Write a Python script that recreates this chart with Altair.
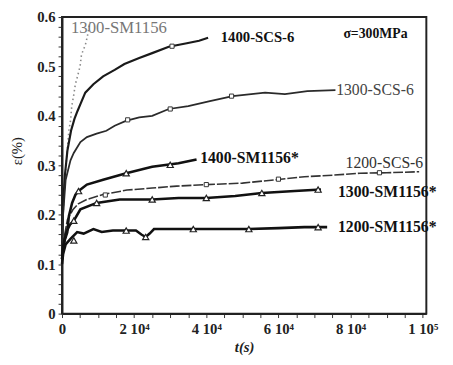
import altair as alt
import pandas as pd

# ---- data (t in s, strain in %) ----
t_1300_SM1156 = [0, 300, 700, 1000, 1300, 1900, 2350, 2700, 3200, 3700, 4300, 5000, 5400, 6000, 6450, 7000, 7400, 7800]
e_1300_SM1156 = [0.12, 0.20, 0.26, 0.29, 0.317, 0.37, 0.39, 0.42, 0.44, 0.464, 0.48, 0.50, 0.524, 0.535, 0.543, 0.56, 0.576, 0.59]

t_1400_SCS6 = [0, 300, 800, 1500, 2500, 3450, 4300, 5100, 6450, 8700, 11400, 14600, 17300, 21400, 25000, 29600, 34600, 38000, 40500]
e_1400_SCS6 = [0.12, 0.22, 0.28, 0.33, 0.37, 0.394, 0.41, 0.424, 0.447, 0.464, 0.48, 0.493, 0.505, 0.517, 0.527, 0.54, 0.547, 0.552, 0.558]

t_1300_SCS6 = [0, 300, 1000, 2350, 3260, 5100, 6900, 9600, 12300, 14600, 17700, 21400, 25000, 29600, 35000, 41000, 47300, 56300, 61800, 68000, 75800]
e_1300_SCS6 = [0.12, 0.20, 0.27, 0.31, 0.325, 0.347, 0.357, 0.364, 0.37, 0.38, 0.39, 0.397, 0.40, 0.414, 0.42, 0.43, 0.44, 0.447, 0.444, 0.45, 0.452]

t_1200_SCS6 = [0, 500, 1500, 3000, 4500, 6900, 11400, 18000, 25000, 31800, 40000, 50000, 58000, 67200, 75000, 82600, 90000, 99000]
e_1200_SCS6 = [0.11, 0.15, 0.19, 0.21, 0.222, 0.231, 0.241, 0.25, 0.254, 0.258, 0.261, 0.264, 0.27, 0.277, 0.28, 0.284, 0.285, 0.287]

t_1400_SM = [0, 300, 800, 1450, 1900, 2800, 3700, 4600, 6900, 11400, 17800, 25000, 32300, 37300]
e_1400_SM = [0.11, 0.13, 0.15, 0.164, 0.197, 0.224, 0.24, 0.248, 0.261, 0.271, 0.284, 0.297, 0.304, 0.312]

t_1300_SM = [0, 400, 1200, 2200, 3270, 5100, 9600, 16000, 25000, 32300, 40000, 48000, 55400, 64500, 71800]
e_1300_SM = [0.11, 0.14, 0.165, 0.18, 0.188, 0.211, 0.224, 0.231, 0.231, 0.234, 0.234, 0.238, 0.244, 0.248, 0.251]

t_1200_SM = [0, 300, 1000, 2350, 4200, 6000, 8700, 11000, 14100, 17800, 20500, 22000, 23200, 24300, 25500, 32300, 40000, 51800, 60000, 67200, 73500]
e_1200_SM = [0.10, 0.12, 0.14, 0.151, 0.165, 0.162, 0.171, 0.165, 0.168, 0.168, 0.168, 0.16, 0.155, 0.162, 0.171, 0.171, 0.171, 0.171, 0.173, 0.175, 0.175]

# triangle markers (SM1156* curves)
tri_t = [4600, 17800, 30000, 3270, 9600, 25000, 40000, 55400, 71000, 3270, 17800, 23200, 36400, 51800, 71000]
tri_e = [0.248, 0.284, 0.301, 0.188, 0.224, 0.231, 0.234, 0.244, 0.251, 0.148, 0.168, 0.155, 0.171, 0.171, 0.175]

# square markers (SCS-6 curves)
sq_t = [30500, 18200, 30000, 47000, 12000, 40000, 60000, 88000]
sq_e = [0.541, 0.392, 0.414, 0.44, 0.24, 0.261, 0.272, 0.285]

# annotations
lab_text = ["1300-SM1156", "1400-SCS-6", "σ=300MPa", "1300-SCS-6", "1400-SM1156*", "1200-SCS-6", "1300-SM1156*", "1200-SM1156*"]
lab_t = [2500, 44000, 78000, 76000, 38300, 78600, 76500, 76500]
lab_e = [0.578, 0.560, 0.566, 0.452, 0.314, 0.304, 0.245, 0.175]
lab_size = [17, 15, 14, 16, 16, 16, 16, 16]
lab_weight = ["normal", "bold", "bold", "normal", "bold", "normal", "bold", "bold"]
lab_color = ["#777777", "#111111", "#111111", "#444444", "#111111", "#333333", "#111111", "#111111"]

x_tick_values = [0, 20000, 40000, 60000, 80000, 100000]
x_tick_labels = ["0", "2 10⁴", "4 10⁴", "6 10⁴", "8 10⁴", "1 10⁵"]
y_tick_values = [0, 0.1, 0.2, 0.3, 0.4, 0.5, 0.6]
y_tick_labels = ["0", "0.1", "0.2", "0.3", "0.4", "0.5", "0.6"]

FONT = "Liberation Serif"

x_minor = [i * 5000 for i in range(21)]
y_minor = [round(i * 0.02, 2) for i in range(31)]
x_expr = " : ".join(
    [f"datum.value == {v} ? '{l}'" for v, l in zip(x_tick_values, x_tick_labels)]
) + " : ''"
y_expr = " : ".join(
    [f"abs(datum.value - {v}) < 0.001 ? '{l}'" for v, l in zip(y_tick_values, y_tick_labels)]
) + " : ''"

xscale = alt.Scale(domain=[0, 101000], nice=False, zero=False)
yscale = alt.Scale(domain=[0, 0.6], nice=False, zero=False)

X = alt.X("t:Q", scale=xscale,
          axis=alt.Axis(values=x_minor, labelExpr=x_expr, grid=False, title="t(s)",
                        titleFontStyle="italic", titleFontWeight="bold", titleFontSize=15,
                        titleFont=FONT, labelFont=FONT, labelFontWeight="bold", labelFontSize=15,
                        labelColor="#222", titleColor="#222", tickSize=4, tickColor="#333",
                        domainColor="#222", domainWidth=2, labelPadding=4, titlePadding=4,
                        labelOverlap=False, labelFlush=False))
Y = alt.Y("e:Q", scale=yscale,
          axis=alt.Axis(values=y_minor, labelExpr=y_expr, grid=False, title="ε(%)",
                        titleFontWeight="normal", titleFontSize=15, titleFont=FONT,
                        labelFont=FONT, labelFontWeight="bold", labelFontSize=15,
                        labelColor="#222", titleColor="#222", tickSize=4, tickColor="#333",
                        domainColor="#222", domainWidth=2, labelPadding=3, titlePadding=12,
                        titleY=136, labelOverlap=False))


def df(ts, es):
    return pd.DataFrame({"t": ts, "e": es})


def line(ts, es, color, width, dash=None, opacity=1.0):
    kw = dict(color=color, strokeWidth=width, opacity=opacity, interpolate="linear")
    if dash:
        kw["strokeDash"] = dash
    return alt.Chart(df(ts, es)).mark_line(**kw).encode(x=X, y=Y)


layers = [
    line(t_1300_SM1156, e_1300_SM1156, "#888888", 1.6, dash=[1.5, 3]),
    line(t_1400_SCS6, e_1400_SCS6, "#1a1a1a", 2.2),
    line(t_1300_SCS6, e_1300_SCS6, "#2a2a2a", 1.8),
    line(t_1200_SCS6, e_1200_SCS6, "#333333", 1.6, dash=[10, 2]),
    line(t_1400_SM, e_1400_SM, "#111111", 2.6),
    line(t_1300_SM, e_1300_SM, "#111111", 2.6),
    line(t_1200_SM, e_1200_SM, "#111111", 2.6),
    alt.Chart(df(tri_t, tri_e)).mark_point(shape="triangle-up", size=40, filled=True,
                                           fill="white", stroke="#222", strokeWidth=1.2,
                                           opacity=1).encode(x=X, y=Y),
    alt.Chart(df(sq_t, sq_e)).mark_point(shape="square", size=18, filled=True,
                                         fill="white", stroke="#333", strokeWidth=1,
                                         opacity=1).encode(x=X, y=Y),
]

labels = pd.DataFrame({"t": lab_t, "e": lab_e, "txt": lab_text,
                       "size": lab_size, "weight": lab_weight, "col": lab_color})
for i in range(len(labels)):
    sub = labels.iloc[[i]]
    layers.append(
        alt.Chart(sub).mark_text(align="left", baseline="middle", font=FONT,
                                 fontSize=int(lab_size[i]),
                                 fontWeight=lab_weight[i]).encode(
            x=X, y=Y, text="txt:N", color=alt.Color("col:N", scale=None))
    )

chart = alt.layer(*layers).properties(
    width=371, height=302,
    autosize=alt.AutoSizeParams(type="none"),
    padding={"left": 55, "top": 6, "right": 19, "bottom": 43},
    background="white",
).configure_view(stroke="#222", strokeWidth=2)

chart.save("out.html", embed_options={"renderer": "svg", "actions": False})
